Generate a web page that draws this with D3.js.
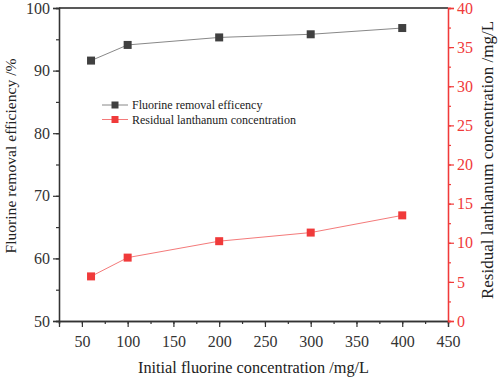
<!DOCTYPE html>
<html>
<head>
<meta charset="utf-8">
<script src="https://cdn.jsdelivr.net/npm/d3@7"></script>
<style>
  body { margin: 0; background: #fff; }
  text { font-family: "Liberation Serif", "Times New Roman", serif; }
</style>
</head>
<body>
<div id="chart"></div>
<script>
// data
let concentrations = [60, 100, 200, 300, 400];
let removalEff = [91.6, 94.1, 95.3, 95.8, 96.8];
let residualLa = [5.7, 8.1, 10.2, 11.3, 13.5];
let xTicks = [50, 100, 150, 200, 250, 300, 350, 400, 450];
let yLeftTicks = [50, 60, 70, 80, 90, 100];
let yRightTicks = [0, 5, 10, 15, 20, 25, 30, 35, 40];

let W = 498, H = 377;
let margin = {top: 8, right: 50, bottom: 56, left: 59},
    width = W - margin.left - margin.right,
    height = H - margin.top - margin.bottom;

let red = "#f03a3a", dark = "#404040";

let svg = d3.select("#chart").append("svg")
    .attr("width", W).attr("height", H);
let g = svg.append("g").attr("transform", "translate(" + margin.left + "," + margin.top + ")");

let x = d3.scaleLinear().domain([25, 450]).range([0, width]);
let yL = d3.scaleLinear().domain([50, 100]).range([height, 0]);
let yR = d3.scaleLinear().domain([0, 40]).range([height, 0]);

// top frame line
g.append("line").attr("x1", 0).attr("x2", width).attr("y1", 0).attr("y2", 0)
    .attr("stroke", "#222").attr("stroke-width", 1.3);

function styleAxis(sel, color) {
    sel.select(".domain").attr("stroke", color).attr("stroke-width", 1.3);
    sel.selectAll(".tick line").attr("stroke", color).attr("stroke-width", 1.2);
    sel.selectAll(".tick text").attr("fill", color)
        .style("font-family", "Liberation Serif").style("font-size", "16px");
}

// minor ticks
let xMinor = d3.range(25, 451, 25);
g.append("g").attr("transform", "translate(0," + height + ")")
    .call(d3.axisBottom(x).tickValues(xMinor).tickSize(3).tickFormat(""))
    .call(s => styleAxis(s, "#333"));
let xAx = g.append("g").attr("transform", "translate(0," + height + ")")
    .call(d3.axisBottom(x).tickValues(xTicks).tickSize(6).tickPadding(6).tickFormat(d3.format("d")));
styleAxis(xAx, "#333");
xAx.selectAll(".tick text").attr("dy", "0.85em");

g.append("g").call(d3.axisLeft(yL).tickValues(d3.range(50, 101, 5)).tickSize(3).tickFormat(""))
    .call(s => styleAxis(s, "#333"));
let yLAx = g.append("g").call(d3.axisLeft(yL).tickValues(yLeftTicks).tickSize(6).tickPadding(3));
styleAxis(yLAx, "#333");

g.append("g").attr("transform", "translate(" + width + ",0)")
    .call(d3.axisRight(yR).tickValues(d3.range(0, 40.1, 2.5)).tickSize(3).tickFormat(""))
    .call(s => styleAxis(s, red));
let yRAx = g.append("g").attr("transform", "translate(" + width + ",0)")
    .call(d3.axisRight(yR).tickValues(yRightTicks).tickSize(6).tickPadding(3));
styleAxis(yRAx, red);

// series
let effData = concentrations.map((c, i) => ({x: c, y: removalEff[i]}));
let laData = concentrations.map((c, i) => ({x: c, y: residualLa[i]}));

g.append("path").datum(effData)
    .attr("fill", "none").attr("stroke", "#888").attr("stroke-width", 1)
    .attr("d", d3.line().x(d => x(d.x)).y(d => yL(d.y)));
g.selectAll(".effPt").data(effData).enter().append("rect")
    .attr("x", d => x(d.x) - 4).attr("y", d => yL(d.y) - 4)
    .attr("width", 8).attr("height", 8).attr("fill", dark);

g.append("path").datum(laData)
    .attr("fill", "none").attr("stroke", "#f47a7a").attr("stroke-width", 1)
    .attr("d", d3.line().x(d => x(d.x)).y(d => yR(d.y)));
g.selectAll(".laPt").data(laData).enter().append("rect")
    .attr("x", d => x(d.x) - 4).attr("y", d => yR(d.y) - 4)
    .attr("width", 8).attr("height", 8).attr("fill", red);

// legend
let legendItems = [
    {label: "Fluorine removal efficency", line: "#888", fill: dark},
    {label: "Residual lanthanum concentration", line: "#f47a7a", fill: red}
];
let legend = svg.append("g").selectAll("g").data(legendItems).enter().append("g")
    .attr("transform", (d, i) => "translate(102," + (105 + i * 14.5) + ")");
legend.append("line").attr("x1", 0).attr("x2", 26).attr("y1", 0).attr("y2", 0)
    .attr("stroke", d => d.line).attr("stroke-width", 1);
legend.append("rect").attr("x", 9.5).attr("y", -3.5).attr("width", 7).attr("height", 7)
    .attr("fill", d => d.fill);
legend.append("text").attr("x", 30).attr("y", 0).attr("dy", "0.35em")
    .style("font-size", "12px").attr("fill", "#222").text(d => d.label);

// axis titles
svg.append("text")
    .attr("transform", "translate(" + (margin.left + width / 2) + "," + 373 + ")")
    .style("text-anchor", "middle").style("font-size", "16.3px").attr("fill", "#222")
    .text("Initial fluorine concentration /mg/L");
svg.append("text")
    .attr("transform", "translate(15.5,156) rotate(-90)")
    .style("text-anchor", "middle").style("font-size", "15.6px").attr("fill", "#222")
    .text("Fluorine removal efficiency /%");
svg.append("text")
    .attr("transform", "translate(493,160) rotate(-90)")
    .style("text-anchor", "middle").style("font-size", "17px").attr("fill", "#222")
    .text("Residual lanthanum concentration /mg/L");
</script>
</body>
</html>
